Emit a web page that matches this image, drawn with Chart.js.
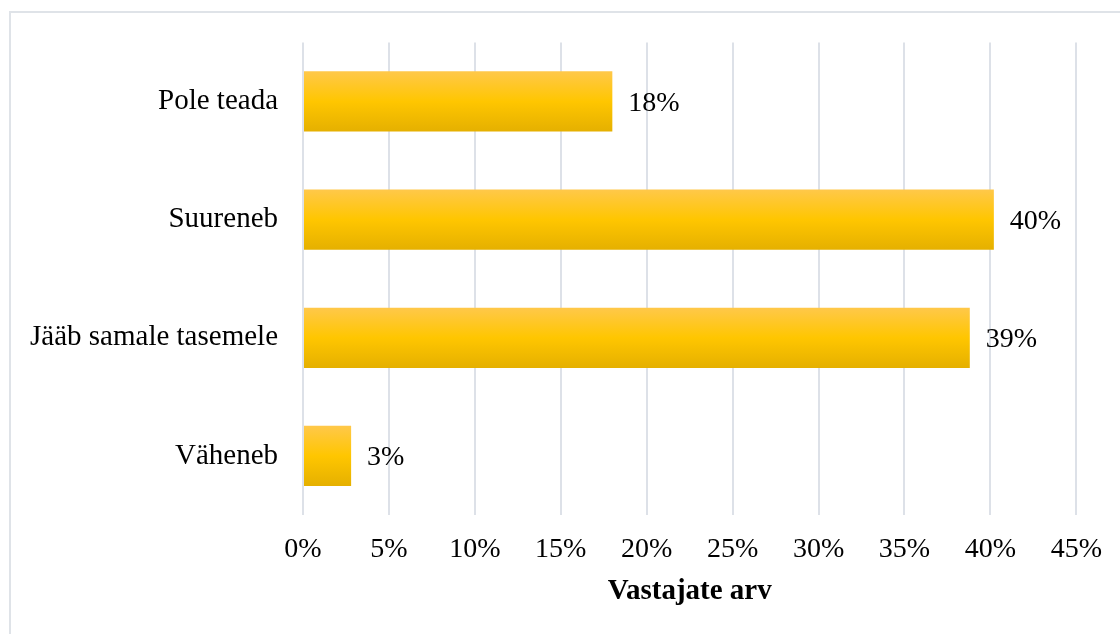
<!DOCTYPE html>
<html>
<head>
<meta charset="utf-8">
<script src="https://cdn.jsdelivr.net/npm/chart.js@4"></script>
<style>
  html, body { margin: 0; padding: 0; background: #fff; }
  #wrap { width: 1120px; height: 634px; position: relative; }
</style>
</head>
<body>
<div id="wrap"><canvas id="chart" width="1120" height="634"></canvas></div>
<script>
// categories top to bottom, values in percent
var categories = ['Pole teada', 'Suureneb', 'Jääb samale tasemele', 'Väheneb'];
var shares = [18.0, 40.2, 38.8, 2.8];
var tickValues = [0, 5, 10, 15, 20, 25, 30, 35, 40, 45];
var axisTitle = 'Vastajate arv';

var FONT = '"Liberation Serif", "Times New Roman", serif';
var PLOT_LEFT = 303, PLOT_TOP = 39, PLOT_BOTTOM = 515;

function barGradient(ctx) {
    var chart = ctx.chart;
    if (!chart.chartArea) return '#FFC600';
    var y = chart.scales.y;
    var c = y.getPixelForValue(ctx.dataIndex);
    var half = y.getPixelForValue(1) - y.getPixelForValue(0);
    half = Math.abs(half) * 0.51 / 2;
    var g = chart.ctx.createLinearGradient(0, c - half, 0, c + half);
    g.addColorStop(0, '#FFC84A');
    g.addColorStop(0.5, '#FFC600');
    g.addColorStop(1, '#E5B000');
    return g;
}

// value labels right of bars
var valueLabels = {
    id: 'valueLabels',
    afterDatasetsDraw: function(chart) {
        var ctx = chart.ctx;
        var meta = chart.getDatasetMeta(0);
        ctx.save();
        ctx.font = '28px ' + FONT;
        ctx.fillStyle = '#000';
        ctx.textBaseline = 'middle';
        ctx.textAlign = 'left';
        meta.data.forEach(function(bar, i) {
            ctx.fillText(Math.round(shares[i]) + '%', bar.x + 16, bar.y + 2);
        });
        ctx.restore();
    }
};

// light frame round the chart
var frame = {
    id: 'frame',
    beforeDraw: function(chart) {
        var ctx = chart.ctx;
        ctx.save();
        ctx.strokeStyle = '#dfe3e8';
        ctx.lineWidth = 2;
        ctx.strokeRect(10, 12, 1130, 640);
        ctx.restore();
    }
};

new Chart(document.getElementById('chart'), {
    type: 'bar',
    data: {
        labels: categories,
        datasets: [{
            data: shares,
            backgroundColor: barGradient,
            categoryPercentage: 1,
            barPercentage: 0.51
        }]
    },
    options: {
        indexAxis: 'y',
        responsive: false,
        animation: false,
        layout: { padding: { top: PLOT_TOP, right: 20, left: 0, bottom: 0 } },
        plugins: {
            legend: { display: false },
            tooltip: { enabled: false }
        },
        scales: {
            x: {
                min: 0,
                max: 45,
                afterBuildTicks: function(axis) {
                    axis.ticks = tickValues.map(function(v) { return { value: v }; });
                },
                afterFit: function(axis) { axis.height = 634 - PLOT_BOTTOM; },
                grid: { color: '#dde1e8', lineWidth: 2, drawTicks: false },
                border: { display: false },
                ticks: {
                    padding: 18,
                    color: '#000',
                    font: { family: FONT, size: 28 },
                    maxRotation: 0,
                    callback: function(v) { return v + '%'; }
                },
                title: {
                    display: true,
                    text: axisTitle,
                    color: '#000',
                    font: { family: FONT, size: 29, weight: 'bold' },
                    padding: { top: 8, bottom: 25 }
                }
            },
            y: {
                afterFit: function(axis) { axis.width = PLOT_LEFT; },
                grid: { display: false, drawTicks: false },
                border: { display: false },
                ticks: {
                    padding: 25,
                    color: '#000',
                    font: { family: FONT, size: 29 }
                }
            }
        }
    },
    plugins: [frame, valueLabels]
});
</script>
</body>
</html>
